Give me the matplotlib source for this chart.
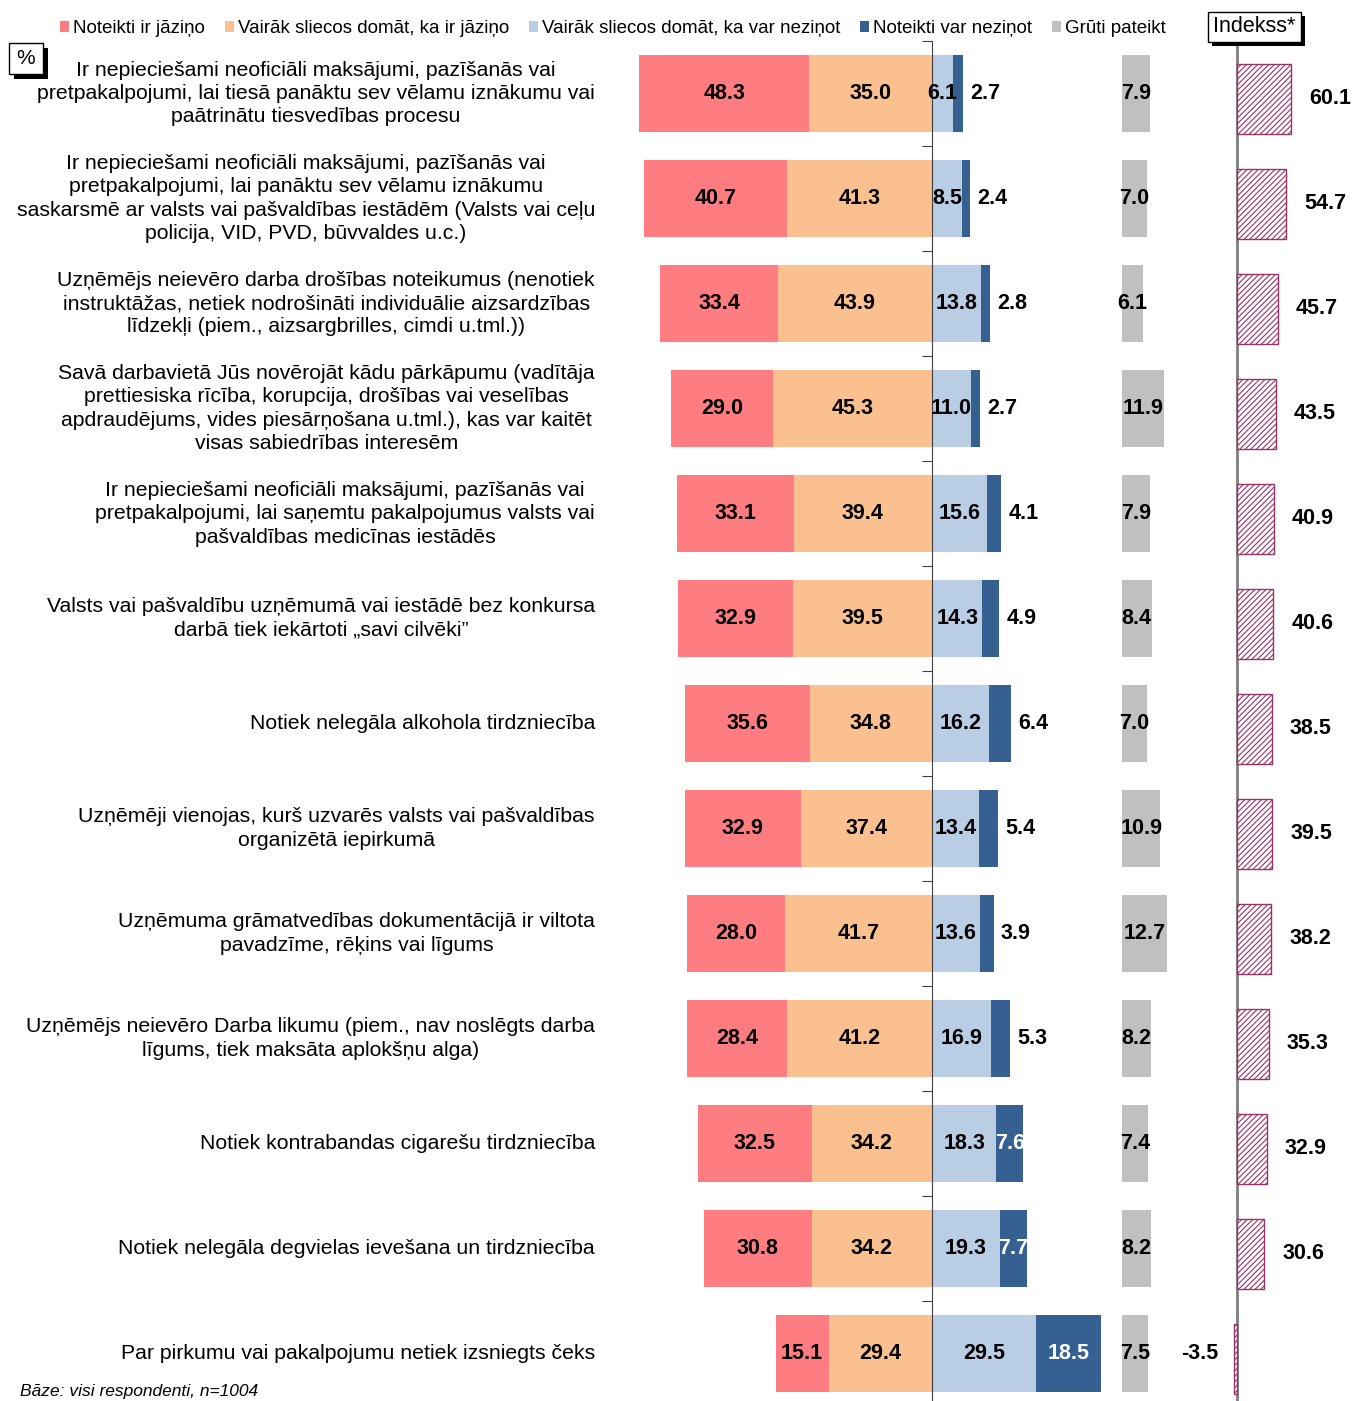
import matplotlib
matplotlib.use("Agg")
import matplotlib.pyplot as plt
from matplotlib.patches import Rectangle
import numpy as np

plt.rcParams['font.family'] = ['Liberation Sans', 'DejaVu Sans']
plt.rcParams['hatch.linewidth'] = 0.8

#%% data
labels = [
    "Ir nepieciešami neoficiāli maksājumi, pazīšanās vai\npretpakalpojumi, lai tiesā panāktu sev vēlamu iznākumu vai\npaātrinātu tiesvedības procesu",
    "Ir nepieciešami neoficiāli maksājumi, pazīšanās vai\npretpakalpojumi, lai panāktu sev vēlamu iznākumu\nsaskarsmē ar valsts vai pašvaldības iestādēm (Valsts vai ceļu\npolicija, VID, PVD, būvvaldes u.c.)",
    "Uzņēmējs neievēro darba drošības noteikumus (nenotiek\ninstruktāžas, netiek nodrošināti individuālie aizsardzības\nlīdzekļi (piem., aizsargbrilles, cimdi u.tml.))",
    "Savā darbavietā Jūs novērojāt kādu pārkāpumu (vadītāja\nprettiesiska rīcība, korupcija, drošības vai veselības\napdraudējums, vides piesārņošana u.tml.), kas var kaitēt\nvisas sabiedrības interesēm",
    "Ir nepieciešami neoficiāli maksājumi, pazīšanās vai\npretpakalpojumi, lai saņemtu pakalpojumus valsts vai\npašvaldības medicīnas iestādēs",
    "Valsts vai pašvaldību uzņēmumā vai iestādē bez konkursa\ndarbā tiek iekārtoti „savi cilvēki”",
    "Notiek nelegāla alkohola tirdzniecība",
    "Uzņēmēji vienojas, kurš uzvarēs valsts vai pašvaldības\norganizētā iepirkumā",
    "Uzņēmuma grāmatvedības dokumentācijā ir viltota\npavadzīme, rēķins vai līgums",
    "Uzņēmējs neievēro Darba likumu (piem., nav noslēgts darba\nlīgums, tiek maksāta aplokšņu alga)",
    "Notiek kontrabandas cigarešu tirdzniecība",
    "Notiek nelegāla degvielas ievešana un tirdzniecība",
    "Par pirkumu vai pakalpojumu netiek izsniegts čeks",
]
must_report = [48.3, 40.7, 33.4, 29.0, 33.1, 32.9, 35.6, 32.9, 28.0, 28.4, 32.5, 30.8, 15.1]
rather_report = [35.0, 41.3, 43.9, 45.3, 39.4, 39.5, 34.8, 37.4, 41.7, 41.2, 34.2, 34.2, 29.4]
rather_not = [6.1, 8.5, 13.8, 11.0, 15.6, 14.3, 16.2, 13.4, 13.6, 16.9, 18.3, 19.3, 29.5]
surely_not = [2.7, 2.4, 2.8, 2.7, 4.1, 4.9, 6.4, 5.4, 3.9, 5.3, 7.6, 7.7, 18.5]
hard_to_say = [7.9, 7.0, 6.1, 11.9, 7.9, 8.4, 7.0, 10.9, 12.7, 8.2, 7.4, 8.2, 7.5]
index = [60.1, 54.7, 45.7, 43.5, 40.9, 40.6, 38.5, 39.5, 38.2, 35.3, 32.9, 30.6, -3.5]
legend_labels = ["Noteikti ir jāziņo", "Vairāk sliecos domāt, ka ir jāziņo",
                 "Vairāk sliecos domāt, ka var neziņot", "Noteikti var neziņot",
                 "Grūti pateikt"]

#%% layout helpers (pixels)
W, H = 1353, 1401
SCALE = 3.515      # px per percent, main bars
ISCALE = 0.897     # px per index unit
GREY_OFFSET = (1122 - 932) / SCALE


def fx(p):
    return p / W


def fy(p):
    return 1 - p / H


c_red, c_peach, c_lblue, c_dblue, c_grey = '#FF7C80', '#FAC090', '#B9CDE5', '#366092', '#C0C0C0'
c_idx = '#993366'

fig = plt.figure(figsize=(W / 100, H / 100), dpi=100)

ax = fig.add_axes([0, fy(1406), fx(1180), 1365 / H])
ax.set_xlim(-932 / SCALE, (1180 - 932) / SCALE)
ax.set_ylim(12.5, -0.5)
ax.patch.set_alpha(0)

y = np.arange(len(labels))
red = np.array(must_report)
peach = np.array(rather_report)
lb = np.array(rather_not)
db = np.array(surely_not)
gr = np.array(hard_to_say)

h = 0.735
b_peach = ax.barh(y, -peach, height=h, color=c_peach)
b_red = ax.barh(y, -red, left=-peach, height=h, color=c_red)
b_lb = ax.barh(y, lb, height=h, color=c_lblue)
b_db = ax.barh(y, db, left=lb, height=h, color=c_dblue)
b_gr = ax.barh(y, gr, left=GREY_OFFSET, height=h, color=c_grey)

vfont = dict(fontsize=15.5, fontweight='bold')
ax.bar_label(b_red, labels=[f"{v:.1f}" for v in red], label_type='center', **vfont)
ax.bar_label(b_peach, labels=[f"{v:.1f}" for v in peach], label_type='center', **vfont)
ax.bar_label(b_lb, labels=[f"{v:.1f}" for v in lb], label_type='center', **vfont)
ax.bar_label(b_gr, labels=[f"{v:.1f}" for v in gr], label_type='center', **vfont)
for yi, l, d in zip(y, lb, db):
    if d >= 7:
        ax.text(l + d / 2, yi, f"{d:.1f}", ha='center', va='center', color='white', **vfont)
    else:
        ax.annotate(f"{d:.1f}", (l + d, yi), xytext=(5, 0), textcoords='offset points',
                    ha='left', va='center', **vfont)

for yi, lab in zip(y, labels):
    ax.text((595 - 932) / SCALE, yi, lab, ha='right', va='center', multialignment='center',
            fontsize=15.3, linespacing=1.3)

for s in ['top', 'right', 'bottom']:
    ax.spines[s].set_visible(False)
ax.spines['left'].set_position(('data', 0))
ax.spines['left'].set_color('#404040')
ax.set_xticks([])
ax.set_yticks(np.arange(-0.5, 13, 1))
ax.tick_params(axis='y', direction='out', length=7, color='#404040', labelleft=False)

#%% index axes
ax2 = fig.add_axes([fx(1180), fy(1406), fx(173), 1365 / H])
ax2.set_xlim(-(1237 - 1180) / ISCALE, (1353 - 1237) / ISCALE)
ax2.set_ylim(12.5, -0.5)
ax2.axis('off')
ax2.axvline(0, color='#7F7F7F', lw=2, zorder=1)
ax2.barh(y + 0.05, index, height=0.67, color='white', edgecolor=c_idx, hatch='//////',
         lw=1, zorder=2)
for yi, v in zip(y, index):
    if v >= 0:
        ax2.annotate(f"{v:.1f}", (v, yi + 0.05), xytext=(13, 0), textcoords='offset points',
                     ha='left', va='center', **vfont)
    else:
        ax2.annotate(f"{v:.1f}", (v, yi), xytext=(-11, 0), textcoords='offset points',
                     ha='right', va='center', **vfont)

#%% legend and boxes
fig.legend(handles=[b_red, b_peach, b_lb, b_db, b_gr], labels=legend_labels, ncol=5,
           loc='upper left', bbox_to_anchor=(fx(60), fy(20)), frameon=False, fontsize=13.5,
           handlelength=0.5, handleheight=0.5, handletextpad=0.2, columnspacing=1.05,
           borderaxespad=0, borderpad=0)

fig.patches.append(Rectangle((fx(14), fy(79)), fx(34), 31 / H, transform=fig.transFigure,
                             fc='black', ec='none'))
fig.patches.append(Rectangle((fx(9), fy(74)), fx(34), 31 / H, transform=fig.transFigure,
                             fc='white', ec='black', lw=1))
fig.text(fx(26), fy(58), "%", ha='center', va='center', fontsize=15)

fig.patches.append(Rectangle((fx(1212), fy(46)), fx(93), 30 / H, transform=fig.transFigure,
                             fc='black', ec='none'))
fig.patches.append(Rectangle((fx(1208), fy(42)), fx(93), 30 / H, transform=fig.transFigure,
                             fc='white', ec='black', lw=1))
fig.text(fx(1254), fy(27), "Indekss*", ha='center', va='center', fontsize=15.5)

fig.text(fx(20), fy(1399), "Bāze: visi respondenti, n=1004", ha='left', va='bottom',
         fontsize=12.5, style='italic')

fig.savefig("out.png", dpi=100)
